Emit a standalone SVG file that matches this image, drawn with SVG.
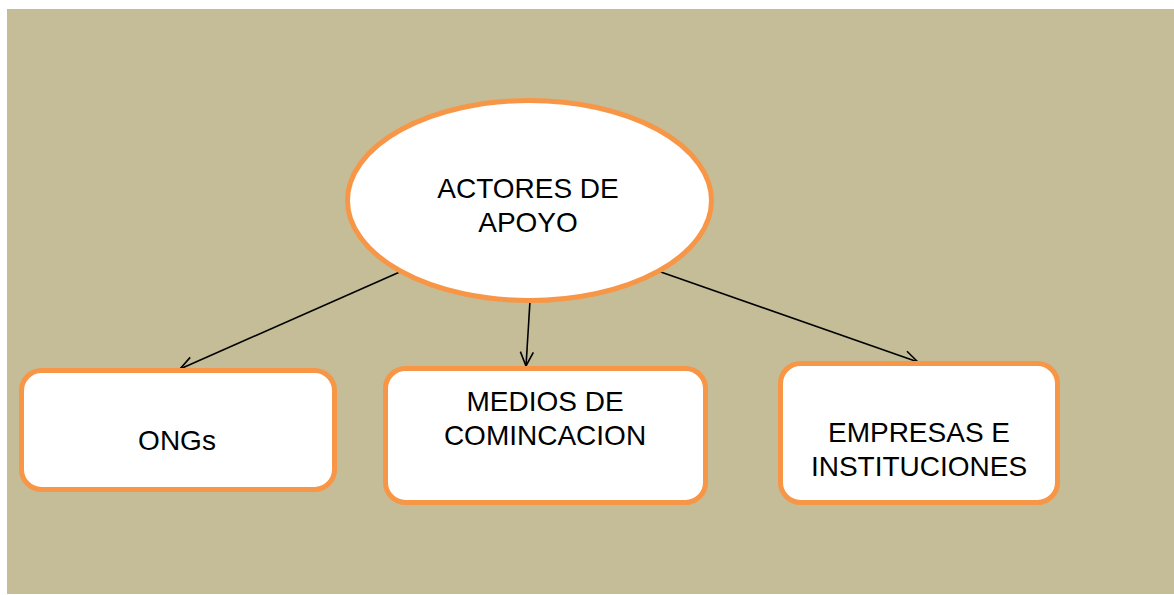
<svg xmlns="http://www.w3.org/2000/svg" width="1174" height="595" viewBox="0 0 1174 595">
<style>
.node{fill:#ffffff;stroke:#F79646;stroke-width:5}
.lbl{font-family:"Liberation Sans",Arial,sans-serif;font-size:28px;fill:#000;text-anchor:middle}
.con{stroke:#000;stroke-width:1.6;fill:none;marker-end:url(#arr)}
</style>
<defs>
<marker id="arr" viewBox="0 0 16 16" refX="15" refY="8" markerWidth="16" markerHeight="16" markerUnits="userSpaceOnUse" orient="auto">
<path d="M1,1.5 L15,8 L1,14.5" fill="none" stroke="#000" stroke-width="1.6"/>
</marker>
</defs>
<rect x="0" y="0" width="1174" height="595" fill="#ffffff"/>
<rect x="7" y="9" width="1167" height="585" fill="#C4BD97"/>
<g id="connectors">
<line class="con" x1="402" y1="271" x2="180" y2="369"/>
<line class="con" x1="530" y1="301" x2="526" y2="366"/>
<line class="con" x1="658" y1="271" x2="918" y2="362"/>
</g>
<g id="actores">
<ellipse class="node" cx="529.5" cy="200.5" rx="182" ry="100"/>
<text class="lbl" x="528" y="198">ACTORES DE</text>
<text class="lbl" x="528" y="232">APOYO</text>
</g>
<g id="ongs">
<rect class="node" x="21.5" y="370.5" width="313" height="119" rx="20"/>
<text class="lbl" x="177" y="450">ONGs</text>
</g>
<g id="medios">
<rect class="node" x="385.5" y="368.5" width="320" height="134" rx="20"/>
<text class="lbl" x="545" y="411">MEDIOS DE</text>
<text class="lbl" x="545" y="445">COMINCACION</text>
</g>
<g id="empresas">
<rect class="node" x="780.5" y="363.5" width="277" height="139" rx="20"/>
<text class="lbl" x="919" y="442">EMPRESAS E</text>
<text class="lbl" x="919" y="476">INSTITUCIONES</text>
</g>
</svg>
